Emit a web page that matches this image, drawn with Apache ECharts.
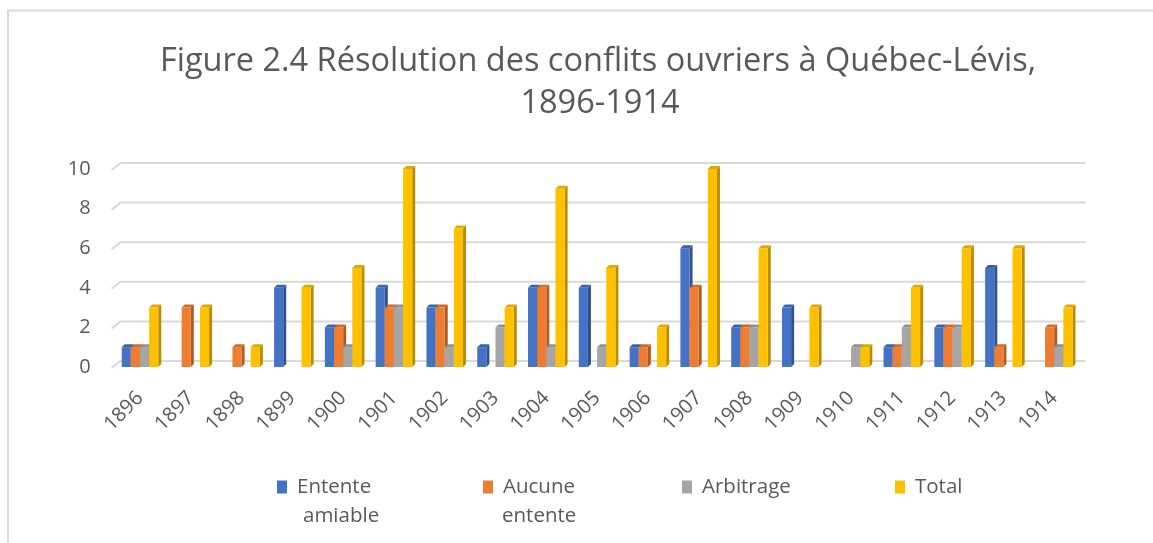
<!DOCTYPE html>
<html>
<head>
<meta charset="utf-8">
<script src="https://cdn.jsdelivr.net/npm/echarts@6/dist/echarts.min.js"></script>
<style>
html,body{margin:0;padding:0;background:#fff;}
#chart{width:1153px;height:543px;}
</style>
</head>
<body>
<div id="chart"></div>
<script>
const years = ['1896','1897','1898','1899','1900','1901','1902','1903','1904','1905','1906','1907','1908','1909','1910','1911','1912','1913','1914'];
const ententeAmiable = [1,0,0,4,2,4,3,1,4,4,1,6,2,3,0,1,2,5,0];
const aucuneEntente  = [1,3,1,0,2,3,3,0,4,0,1,4,2,0,0,1,2,1,2];
const arbitrage      = [1,0,0,0,1,3,1,2,1,1,0,0,2,0,1,2,2,0,1];
const total          = [3,3,1,4,5,10,7,3,9,5,2,10,6,3,1,4,6,6,3];
const yTicks = [0,2,4,6,8,10];
const seriesNames = ['Entente amiable','Aucune entente','Arbitrage','Total'];
const legendLine1 = ['Entente','Aucune','Arbitrage','Total'];
const legendLine2 = ['amiable','entente','',''];

const FONT = "'Open Sans', 'Noto Sans', sans-serif";
const TXT = '#595959';
const colors = ['#4472C4','#ED7D31','#A5A5A5','#FFC000'];
const sideColors = ['#2F528F','#AE5A21','#7B7B7B','#BC8C00'];
const topColors = ['#3A63AD','#CF6C29','#909090','#DDA800'];
const allData = [ententeAmiable, aucuneEntente, arbitrage, total];

const chart = echarts.init(document.getElementById('chart'), null, {renderer:'canvas'});

function barRender(si){
  return function(params, api){
    const ci = api.value(0), v = api.value(1);
    if (!v) return null;
    const base = api.coord([ci, 0]);
    const top = api.coord([ci, v]);
    const band = api.size([1, 0])[0];
    const bw = band * 0.18;
    const x0 = base[0] - 2*bw + si*bw;
    const x1 = x0 + bw;
    const yb = base[1], yt = top[1];
    const d = 3;
    return {
      type:'group',
      children:[
        {type:'polygon', shape:{points:[[x1,yt],[x1+d,yt-d],[x1+d,yb-d],[x1,yb]]}, style:{fill:sideColors[si]}},
        {type:'polygon', shape:{points:[[x0,yt],[x0+d,yt-d],[x1+d,yt-d],[x1,yt]]}, style:{fill:topColors[si]}},
        {type:'rect', shape:{x:x0, y:yt, width:bw, height:yb-yt}, style:{fill:colors[si]}}
      ]
    };
  };
}

const series = [];
series.push({
  type:'custom', name:'grid', silent:true, z:1,
  data: yTicks.map(v => [0, v]),
  renderItem: function(params, api){
    const p = api.coord([0, api.value(1)]);
    const cs = params.coordSys;
    const y = p[1];
    return {type:'polyline', shape:{points:[[cs.x-3, y+1],[cs.x+6, y-6],[cs.x+cs.width+6, y-6]]},
      style:{stroke:'#d9d9d9', lineWidth:2, fill:null}};
  }
});
allData.forEach((arr, si) => {
  series.push({
    type:'custom', name: seriesNames[si], z: 2+si,
    itemStyle:{color: colors[si]},
    data: arr.map((v, i) => [i, v]),
    renderItem: barRender(si)
  });
});

const legendLeft = [277, 483, 682, 895];
const line2Offset = [26, 19, 0, 0];
const legends = seriesNames.map((n, i) => ({
  data:[n], left: legendLeft[i], top: 476, padding:0, itemWidth: 10, itemHeight: 13, itemGap: 0,
  icon:'rect', selectedMode:false,
  formatter: () => legendLine1[i],
  textStyle:{color:TXT, fontSize:20.5, fontFamily:FONT, padding:[0,0,0,5], lineHeight:22}
}));

const graphics = [
  {type:'polyline', shape:{points:[[8,560],[8,10.5],[1170,10.5]]}, style:{stroke:'#d9d9d9', lineWidth:2, fill:null}, silent:true}
];
legendLine2.forEach((t, i) => {
  if (t) graphics.push({type:'text', x: legendLeft[i] + line2Offset[i], y: 506, style:{text:t, fill:TXT, font:"20.5px " + FONT}});
});
graphics.push({type:'text', x:598, y:45, style:{text:'Figure 2.4 Résolution des conflits ouvriers à Québec-Lévis,', fill:TXT, font:"32.5px " + FONT, textAlign:'center'}});
graphics.push({type:'text', x:600, y:87, style:{text:'1896-1914', fill:TXT, font:"32.5px " + FONT, textAlign:'center'}});

chart.setOption({
  animation:false,
  backgroundColor:'#ffffff',
  grid:{left:114.6, top:169, width:965, height:198, containLabel:false},
  xAxis:{type:'category', data: years,
    axisLine:{show:false}, axisTick:{show:false},
    axisLabel:{rotate:45, color:TXT, fontSize:20, fontFamily:FONT, margin:28, interval:0}},
  yAxis:{type:'value', min:0, max:10, interval:2,
    axisLine:{show:false}, axisTick:{show:false}, splitLine:{show:false},
    axisLabel:{color:TXT, fontSize:20, fontFamily:FONT, margin:24}},
  legend: legends,
  graphic: graphics,
  series: series
});
</script>
</body>
</html>
